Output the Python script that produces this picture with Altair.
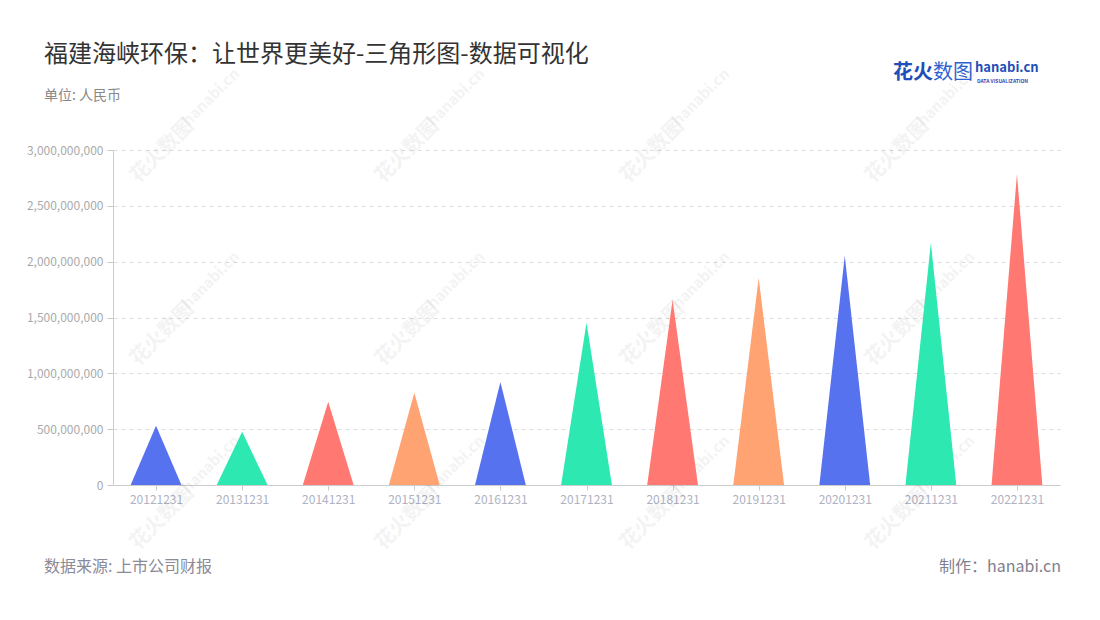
import altair as alt
import pandas as pd

# ---- data ----
years = ["20121231", "20131231", "20141231", "20151231", "20161231", "20171231",
         "20181231", "20191231", "20201231", "20211231", "20221231"]
values = [530e6, 476e6, 745e6, 826e6, 923e6, 1453e6, 1656e6, 1855e6, 2054e6, 2169e6, 2784e6]
colors = ["#5672EE", "#2DE8B1", "#FF7872", "#FFA372", "#5672EE", "#2DE8B1",
          "#FF7872", "#FFA372", "#5672EE", "#2DE8B1", "#FF7872"]
y_ticks = [0, 500e6, 1000e6, 1500e6, 2000e6, 2500e6, 3000e6]

title_text = "福建海峡环保：让世界更美好-三角形图-数据可视化"
unit_text = "单位: 人民币"
source_text = "数据来源: 上市公司财报"
credit_text = "制作：hanabi.cn"

HALF = 0.295  # half base width of each triangle, in category units
W, H = 947, 335
FONT = "Noto Sans CJK SC"

# triangle outlines built from the data: base-left, apex, base-right
rows = []
for i, (yr, v) in enumerate(zip(years, values)):
    rows.append({"year": yr, "x": i - HALF, "y": 0.0})
    rows.append({"year": yr, "x": float(i), "y": v})
    rows.append({"year": yr, "x": i + HALF, "y": 0.0})
tri = pd.DataFrame(rows)

label_expr = "[" + ",".join("'" + y + "'" for y in years) + "][datum.value]"

triangles = alt.Chart(tri).mark_area(opacity=1, interpolate="linear").encode(
    x=alt.X("x:Q",
            scale=alt.Scale(domain=[-0.5, len(years) - 0.5], nice=False, zero=False),
            axis=alt.Axis(values=list(range(len(years))), labelExpr=label_expr,
                          title=None, grid=False, domainColor="#cccccc", tickColor="#cccccc",
                          tickSize=5, labelColor="#aeb2c2", labelFontSize=12, labelFont=FONT,
                          labelPadding=4, labelFlush=False)),
    y=alt.Y("y:Q", stack=None,
            scale=alt.Scale(domain=[0, 3e9], nice=False),
            axis=alt.Axis(values=y_ticks, format=",.0f", title=None, domainColor="#cccccc",
                          tickColor="#cccccc", tickSize=6, labelColor="#aaaaaa",
                          labelFontSize=12, labelFont=FONT, labelPadding=4,
                          gridColor="#dddddd", gridDash=[4, 4],
                          gridOpacity=1)),
    color=alt.Color("year:N", scale=alt.Scale(domain=years, range=colors), legend=None),
    detail="year:N",
)

# watermark (decorative)
wm_rows = []
for cy in [128, 311, 495]:
    for cx in [183, 428, 673, 918]:
        wm_rows.append({"px": cx - 113 - 21, "py": cy - 150 + 23, "t": "花火数图", "s": 20})
        wm_rows.append({"px": cx - 113 + 28, "py": cy - 150 - 31, "t": "hanabi.cn", "s": 15})
wm = pd.DataFrame(wm_rows)
watermark = alt.Chart(wm).mark_text(angle=315, font=FONT, fontWeight="bold",
                                    color="#000000", opacity=0.045).encode(
    x=alt.X("px:Q", scale=None), y=alt.Y("py:Q", scale=None),
    text="t:N", size=alt.Size("s:Q", scale=None, legend=None))

one = pd.DataFrame({"a": [0]})

def txt(text, x, y, size, color, align="left", weight="normal", baseline="middle"):
    return alt.Chart(one).mark_text(text=text, align=align, baseline=baseline, font=FONT,
                                    fontSize=size, color=color, fontWeight=weight).encode(
        x=alt.value(x), y=alt.value(y))

title = txt(title_text, 44 - 113, 55 - 150, 24, "#333333")
unit = txt(unit_text, 44 - 113, 96 - 150, 14, "#888888")
source = txt(source_text, 44 - 113, 567 - 150, 16, "#8a8a98")
credit = txt(credit_text, 1061 - 113, 567 - 150, 16, "#80808e", align="right")
logo1 = txt("花火", 893 - 113, 73 - 150, 20, "#1f4fb8", weight="bold")
logo2 = txt("数图", 933 - 113, 73 - 150, 20, "#2f62d0")
logo3 = txt("hanabi.cn", 975 - 113, 68 - 150, 13, "#1f4fb8", weight="bold")
logo4 = txt("DATA VISUALIZATION", 977 - 113, 81 - 150, 5, "#1f4fb8", weight="bold")

chart = alt.layer(watermark, triangles, title, unit, source, credit,
                  logo1, logo2, logo3, logo4).properties(
    width=W, height=H,
    background="#ffffff",
    autosize=alt.AutoSizeParams(type="none"),
    padding={"left": 105, "top": 142, "right": 32, "bottom": 127},
).configure_view(stroke="transparent", strokeWidth=0)

chart.save("out.html", embed_options={"renderer": "svg", "actions": False})
